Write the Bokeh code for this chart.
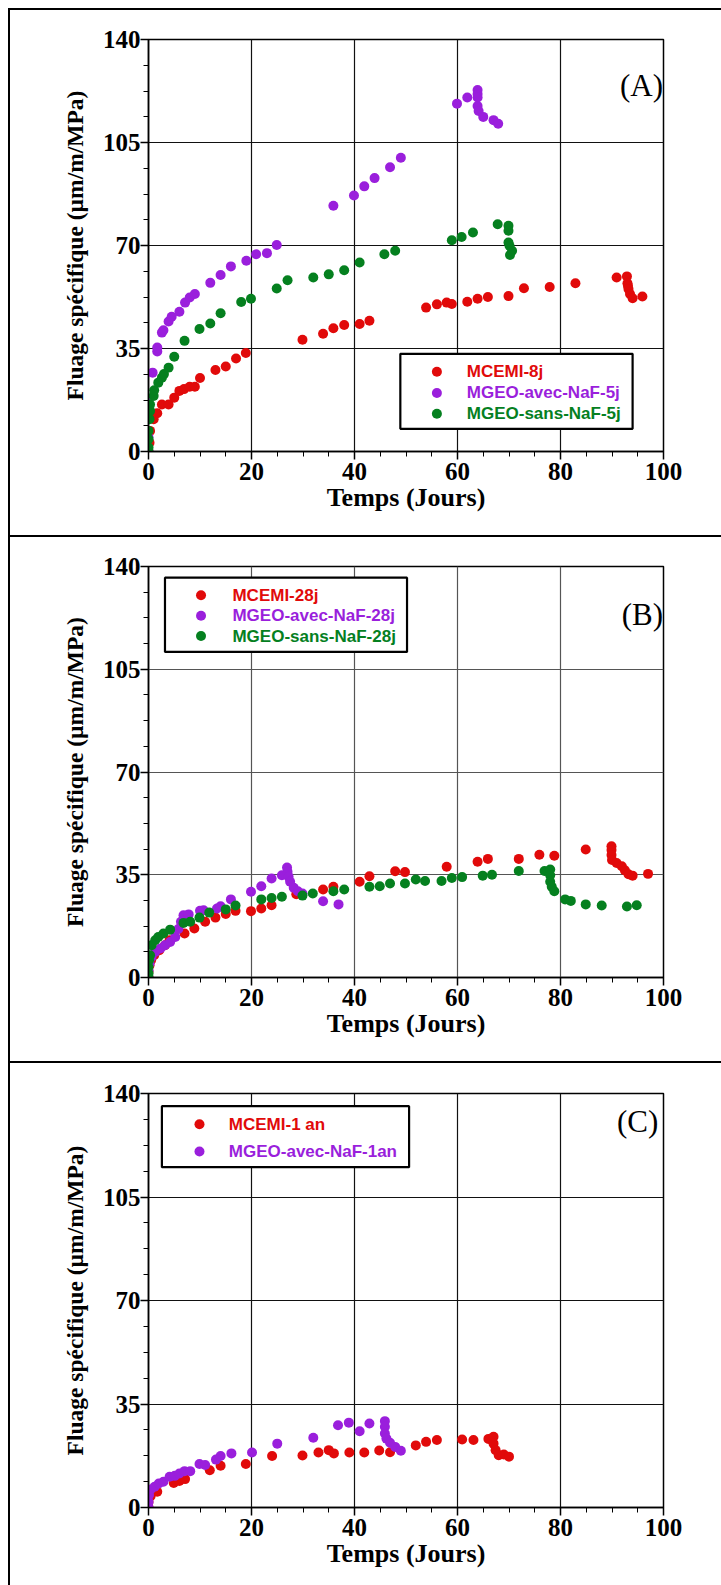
from bokeh.plotting import figure
from bokeh.layouts import column
from bokeh.models import FixedTicker, Range1d
from bokeh.core.properties import value
from bokeh.embed import file_html
from bokeh.resources import INLINE

# ---------------- data ----------------
X_TICKS = [0, 20, 40, 60, 80, 100]
X_MINOR = [i * 5 for i in range(21)]
Y_TICKS = [0, 35, 70, 105, 140]
Y_MINOR = [i * 8.75 for i in range(17)]
X_LABEL = "Temps (Jours)"
Y_LABEL = "Fluage spécifique (µm/m/MPa)"

# Panel A
a_mcemi_label = "MCEMI-8j"
a_mcemi_x = [0, 0.2, 0.3, 1, 1.7, 2.6, 3.9, 5, 6, 6.9, 8, 9, 10, 13, 15, 17, 18.9,
             29.9, 33.9, 35.9, 38, 41, 42.9, 53.9, 56.0, 57.9, 58.9, 61.9, 63.9, 65.9,
             69.9, 72.9, 77.9, 82.9, 90.9, 92.9, 93.0, 93.1, 93.2, 93.5, 94.0, 95.9]
a_mcemi_y = [0, 3, 7, 11, 13, 16, 16, 18.3, 20.6, 21.2, 22, 22, 25, 27.7, 28.9, 31.6, 33.5,
             38, 40, 41.9, 43, 43.3, 44.4, 48.9, 50, 50.6, 50.1, 50.9, 51.9, 52.5,
             52.8, 55.5, 55.9, 57.2, 59.1, 59.5, 57.2, 56.3, 55.2, 53.5, 52.1, 52.7]

a_avec_label = "MGEO-avec-NaF-5j"
a_avec_x = [0, 0, 0, 0.8, 1.7, 1.7, 2.6, 2.9, 3.9, 4.5, 6, 7.1, 8, 9, 12, 14, 16, 19,
            20.9, 23, 24.9, 35.9, 39.9, 41.9, 43.9, 46.9, 49, 59.9, 61.9, 63.9, 63.9,
            63.9, 63.9, 64.1, 65, 67, 67.9]
a_avec_y = [0, 4.8, 17.8, 26.8, 34, 35.3, 40.4, 41.2, 44.2, 45.8, 47.5, 50.6, 52.3, 53.5,
            57.3, 60, 62.9, 64.8, 67, 67.4, 70.2, 83.5, 87, 90.1, 92.9, 96.6, 99.8, 118.2,
            120.3, 122.8, 121.5, 120.3, 117.4, 115.7, 113.7, 112.6, 111.4]

a_sans_label = "MGEO-sans-NaF-5j"
a_sans_x = [0, 0, 0, 0, 0.2, 0.3, 0.3, 1, 1.1, 1.9, 2.6, 3, 3.9, 5, 7, 9.9, 12, 14, 18,
            19.9, 24.9, 27, 32, 35, 38, 41, 45.8, 47.9, 58.9, 60.8, 63, 67.8, 69.9, 69.9,
            69.9, 70.1, 70.6, 70.2]
a_sans_y = [0, 1.4, 4.2, 7, 11, 13.8, 16, 18.9, 20.8, 23.4, 25.1, 26.3, 28.5, 32.2, 37.6,
            41.6, 43.5, 47, 50.8, 51.9, 55.4, 58.2, 59.1, 60.2, 61.6, 64.2, 67, 68.2, 71.8,
            72.9, 74.4, 77.2, 76.7, 75, 71, 69.9, 68.2, 66.8]

# Panel B
b_mcemi_label = "MCEMI-28j"
b_mcemi_x = [0, 0, 0.2, 0.5, 1.1, 2.1, 3.2, 4.1, 7, 8.9, 11, 13, 15, 16.9, 19.9, 21.9,
             23.9, 28.7, 33.9, 35.9, 41, 42.9, 47.9, 49.8, 57.9, 63.9, 65.9, 71.9, 75.9,
             78.8, 84.9, 89.9, 89.9, 89.9, 90, 90.9, 91.9, 92.5, 93.2, 94, 97]
b_mcemi_y = [0, 2, 4.2, 5.9, 7.6, 9.3, 11, 12.7, 15, 16.7, 19, 20.4, 21.6, 22.7, 22.6,
             23.5, 24.6, 28.4, 30, 30.9, 32.6, 34.5, 36.2, 35.9, 37.7, 39.4, 40.4, 40.4,
             41.8, 41.5, 43.6, 44.7, 43.4, 41.7, 40, 39, 37.9, 36.5, 35.2, 34.7, 35.3]

b_avec_label = "MGEO-avec-NaF-28j"
b_avec_x = [0, 0, 0.2, 0.6, 1.3, 2.3, 3.2, 4.2, 5.2, 5.8, 6.3, 6.8, 7.8, 10, 10.7, 13.3,
            14, 16, 19.9, 21.9, 23.9, 25.9, 26.9, 27, 27.2, 27.5, 28.2, 29, 29.9, 33.9,
            36.9]
b_avec_y = [0, 2.5, 4.8, 7, 8.7, 9.9, 11, 12.1, 13.8, 16.5, 19, 21.2, 21.5, 22.7, 22.9,
            23.5, 24.3, 26.6, 29.2, 31.1, 33.7, 34.8, 37.5, 36, 34.3, 32.6, 30.6, 29.4,
            28.6, 26, 24.9]

b_sans_label = "MGEO-sans-NaF-28j"
b_sans_x = [0, 0, 0, 0.1, 0.3, 0.6, 1.3, 1.9, 2.9, 4.2, 6.8, 8.1, 9.9, 11.8, 15, 16.9,
            21.9, 23.9, 25.9, 29.9, 31.9, 35.9, 38, 42.9, 44.9, 46.9, 49.8, 51.9, 53.7,
            56.9, 58.9, 60.9, 64.9, 66.7, 71.9, 76.9, 78, 78, 78, 78.3, 78.8, 80.9, 82,
            84.9, 88, 92.9, 94.8]
b_sans_y = [0, 1.4, 3.6, 5.9, 7.6, 11, 12.7, 13.8, 15, 16.3, 18.6, 19, 20.4, 22.1, 23.2,
            24.5, 26.6, 27.1, 27.5, 27.9, 28.6, 29.4, 30, 30.9, 31.1, 32, 32, 33.4, 32.9,
            32.9, 33.9, 34.2, 34.7, 35, 36.3, 36.3, 36.8, 34.8, 32.6, 30.9, 29.4, 26.6,
            26.1, 24.9, 24.5, 24.2, 24.6]

# Panel C
c_mcemi_label = "MCEMI-1 an"
c_mcemi_x = [0, 0, 0.4, 1.7, 4.9, 6, 7.1, 11.9, 14, 18.9, 24, 29.9, 33, 35, 36, 39, 41.9,
             44.8, 46.9, 51.9, 53.9, 56, 60.9, 63.1, 66, 67, 67, 67.4, 68, 69, 70]
c_mcemi_y = [0, 1.9, 3.8, 5.3, 8.3, 9, 9.6, 12.6, 14.1, 14.7, 17.4, 17.6, 18.6, 19.4,
             18.3, 18.6, 18.6, 19.3, 18.7, 21, 22.2, 22.8, 23, 22.8, 23.2, 23.9, 21.6,
             19.4, 17.7, 17.9, 17.2]

c_avec_label = "MGEO-avec-NaF-1an"
c_avec_x = [0, 0, 0.1, 0.4, 1.2, 2, 2.9, 4.1, 5.1, 6, 7, 8.1, 9.9, 11, 13.1, 14, 16.1,
            20.1, 25, 32, 36.8, 38.9, 41, 42.9, 45.9, 45.9, 45.9, 46.2, 46.9, 47.9, 49]
c_avec_y = [0, 1.9, 4.2, 6.1, 7, 8.1, 8.7, 10.4, 10.7, 11.5, 12.3, 12.3, 14.7, 14.4, 16.2,
            17.4, 18.3, 18.6, 21.6, 23.6, 27.8, 28.7, 25.8, 28.4, 29.2, 27.3, 25, 23.3,
            21.9, 20.5, 19.2]

RED = "#e10a0a"
PURPLE = "#9a1fdc"
GREEN = "#05801f"

SERIF = "Liberation Serif"
SANS = "Liberation Sans"


def make_panel(fl, fw, fr, ft, fh, fb, series, box, dot_x, text_x, rows, tag, tag_x, tag_y,
               grid_color):
    p = figure(width=fl + fw + fr, height=ft + fh + fb,
               min_border_left=fl, min_border_right=fr,
               min_border_top=ft, min_border_bottom=fb,
               x_range=Range1d(0, 100), y_range=Range1d(0, 140),
               output_backend="svg", toolbar_location=None, tools="")
    p.border_fill_color = None
    p.background_fill_color = "white"
    p.outline_line_color = "black"
    p.outline_line_width = 1.5
    p.styles = {"box-shadow": "inset 2px 2px 0 0 #000000"}

    p.xaxis.ticker = FixedTicker(ticks=X_TICKS, minor_ticks=X_MINOR)
    p.yaxis.ticker = FixedTicker(ticks=Y_TICKS, minor_ticks=Y_MINOR)
    p.xgrid.ticker = FixedTicker(ticks=[20, 40, 60, 80])
    p.ygrid.ticker = FixedTicker(ticks=[35, 70, 105])
    for g in (p.xgrid, p.ygrid):
        g.grid_line_color = grid_color
        g.grid_line_width = 1.2

    for ax in (p.xaxis, p.yaxis):
        ax.axis_line_width = 1.5
        ax.axis_line_color = "black"
        ax.major_tick_line_width = 1.5
        ax.major_tick_out = 8
        ax.major_tick_in = 0
        ax.minor_tick_out = 5
        ax.minor_tick_in = 0
        ax.minor_tick_line_width = 1
        ax.major_label_text_font = SERIF
        ax.major_label_text_font_style = "bold"
        ax.major_label_text_font_size = "25px"
        ax.major_label_text_color = "black"
        ax.axis_label_text_font = SERIF
        ax.axis_label_text_font_style = "bold"
        ax.axis_label_text_color = "black"
    p.xaxis.axis_label = X_LABEL
    p.yaxis.axis_label = Y_LABEL
    p.xaxis.axis_label_text_font_size = "26px"
    p.yaxis.axis_label_text_font_size = "23.5px"
    p.xaxis.major_label_standoff = 3
    p.xaxis.axis_label_standoff = 0
    p.yaxis.major_label_standoff = 0
    p.yaxis.axis_label_standoff = 12

    for xs, ys, color, label in series:
        p.scatter(xs, ys, size=10, fill_color=color, line_color=color, line_width=0)

    # legend box
    left, right, bottom, top = box
    p.quad(left=[left], right=[right], bottom=[bottom], top=[top],
           fill_color="white", line_color="black", line_width=2.2)
    for (xs, ys, color, label), ry in zip(series, rows):
        p.scatter([dot_x], [ry], size=10, fill_color=color, line_color=color, line_width=0)
        p.text([text_x], [ry], text=[label], text_align="left", text_baseline="middle",
               text_font=value(SANS), text_font_style="bold", text_font_size="17px",
               text_color=color)

    p.text([tag_x], [tag_y], text=[tag], text_align="right", text_baseline="middle",
           text_font=value(SERIF), text_font_size="31px", text_color="black")
    return p


pA = make_panel(140, 515, 58, 31, 412, 84,
                [(a_mcemi_x, a_mcemi_y, RED, a_mcemi_label),
                 (a_avec_x, a_avec_y, PURPLE, a_avec_label),
                 (a_sans_x, a_sans_y, GREEN, a_sans_label)],
                (48.9, 94.0, 7.7, 33.2), 56.0, 61.8, [27.1, 19.9, 12.8],
                "(A)", 99.9, 124.3, "#111111")

pB = make_panel(140, 515, 58, 31, 411, 84,
                [(b_mcemi_x, b_mcemi_y, RED, b_mcemi_label),
                 (b_avec_x, b_avec_y, PURPLE, b_avec_label),
                 (b_sans_x, b_sans_y, GREEN, b_sans_label)],
                (3.2, 50.2, 110.9, 136.2), 10.2, 16.3, [130.2, 123.2, 116.3],
                "(B)", 99.9, 123.8, "#555555")

pC = make_panel(138, 520, 55, 32, 414, 78,
                [(c_mcemi_x, c_mcemi_y, RED, c_mcemi_label),
                 (c_avec_x, c_avec_y, PURPLE, c_avec_label)],
                (2.6, 50.6, 115.1, 135.7), 9.9, 15.6, [129.6, 120.4],
                "(C)", 99.0, 130.4, "#111111")

layout = column(pA, pB, pC, spacing=0, margin=(8, 0, 0, 8))

open("out.html", "w").write(file_html(layout, INLINE))
